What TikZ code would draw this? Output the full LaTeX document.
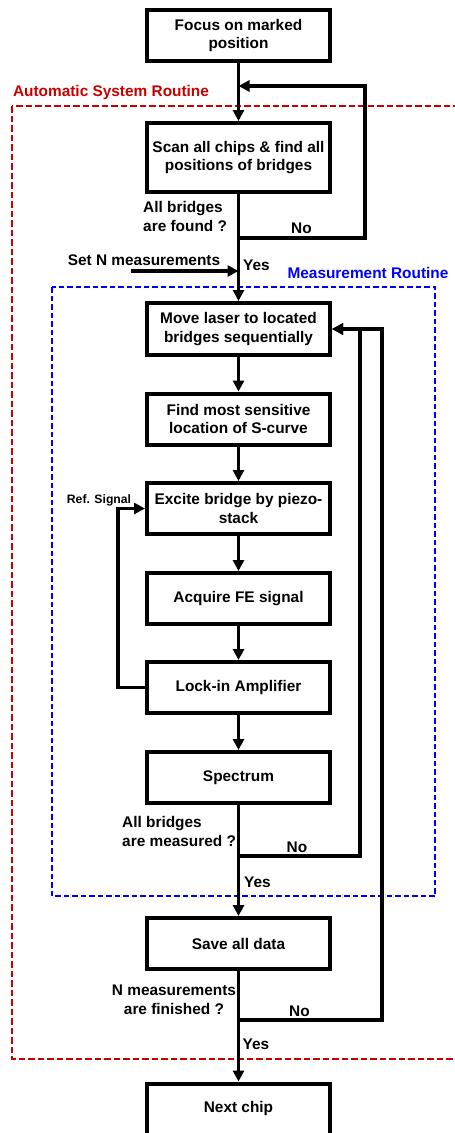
\documentclass[tikz,border=0pt]{standalone}
\usepackage{fontspec}
\setmainfont{Liberation Sans}
\usetikzlibrary{arrows.meta}
\definecolor{routred}{RGB}{200,0,0}
\definecolor{routblue}{RGB}{0,0,250}
\tikzset{
  stepbox/.style={draw, line width=4pt, minimum width=183pt, minimum height=51pt, inner sep=2pt, align=center, font=\fontsize{15.4}{18.5}\selectfont\bfseries},
  lbl/.style={inner sep=0pt, font=\fontsize{15.4}{18.5}\selectfont\bfseries},
  flow/.style={line width=3.2pt, -{Triangle[length=11pt,width=11pt]}},
}
\begin{document}
\begin{tikzpicture}[x=1pt,y=-1pt]
\useasboundingbox (0,0) rectangle (455,1133);
% routine frames
\draw[routred, line width=2.4pt, dash pattern=on 6.5pt off 3pt] (12,106) rectangle (475,1059);
\draw[routblue, line width=2.2pt, dash pattern=on 5.5pt off 3pt] (52,287) rectangle (435,896);
\node[lbl, routred] (asr) at (111,93) {Automatic System Routine};
\node[lbl, routblue] (mr) at (368,273) {Measurement Routine};
% boxes
\node[stepbox] (b1) at (238.5,35.5) {Focus on marked\\position};
\node[stepbox, minimum height=69pt] (b2) at (238.5,157.5) {Scan all chips \& find all\\positions of bridges};
\node[stepbox, minimum height=52pt] (b3) at (238.5,329) {Move laser to located\\bridges sequentially};
\node[stepbox] (b4) at (238.5,419) {Find most sensitive\\location of S-curve};
\node[stepbox] (b5) at (238.5,508.5) {Excite bridge by piezo-\\stack};
\node[stepbox] (b6) at (238.5,598.5) {Acquire FE signal};
\node[stepbox] (b7) at (238.5,687.5) {Lock-in Amplifier};
\node[stepbox] (b8) at (238.5,777.5) {Spectrum};
\node[stepbox] (b9) at (238.5,943.5) {Save all data};
\node[stepbox] (b10) at (238.5,1109) {Next chip};
% coordinates
\coordinate (d1) at (238.5,238);
\coordinate (l1) at (365,86);
\coordinate (m1) at (238.5,86);
\coordinate (s1) at (131,271);
\coordinate (d2) at (238.5,856);
\coordinate (r2) at (360,329);
\coordinate (d3) at (238.5,1020);
\coordinate (r3) at (382,329);
\coordinate (rf) at (118,508.5);
% main flow
\draw[flow] (b1) -- (b2);
\draw[flow] (b2) -- (b3);
\draw[flow] (b3) -- (b4);
\draw[flow] (b4) -- (b5);
\draw[flow] (b5) -- (b6);
\draw[flow] (b6) -- (b7);
\draw[flow] (b7) -- (b8);
\draw[flow] (b8) -- (b9);
\draw[flow] (b9) -- (b10);
% loops
\draw[flow] (d1) -| (l1) -- (m1);
\draw[flow] (s1) -- (s1 -| b2);
\draw[flow] (d2) -| (r2) -- (b3.east);
\draw[flow] (d3) -| (r3) -- (b3.east);
\draw[flow] (b7.west) -| (rf) -- (b5.west);
% labels
\node[lbl, align=left, anchor=west] (q1) at (143,216.5) {All bridges\\are found ?};
\node[lbl] (no1) at (301.5,228) {No};
\node[lbl] (setn) at (144,260) {Set N measurements};
\node[lbl] (yes1) at (256.5,265) {Yes};
\node[lbl, font=\fontsize{12.2}{14}\selectfont\bfseries] (ref) at (99,500) {Ref. Signal};
\node[lbl, align=left, anchor=west] (q2) at (122,831.5) {All bridges\\are measured ?};
\node[lbl] (no2) at (297,847) {No};
\node[lbl] (yes2) at (257.5,882) {Yes};
\node[lbl, align=center] (q3) at (174,1000) {N measurements\\are finished ?};
\node[lbl] (no3) at (299.5,1011.5) {No};
\node[lbl] (yes3) at (256,1044) {Yes};
\end{tikzpicture}
\end{document}
